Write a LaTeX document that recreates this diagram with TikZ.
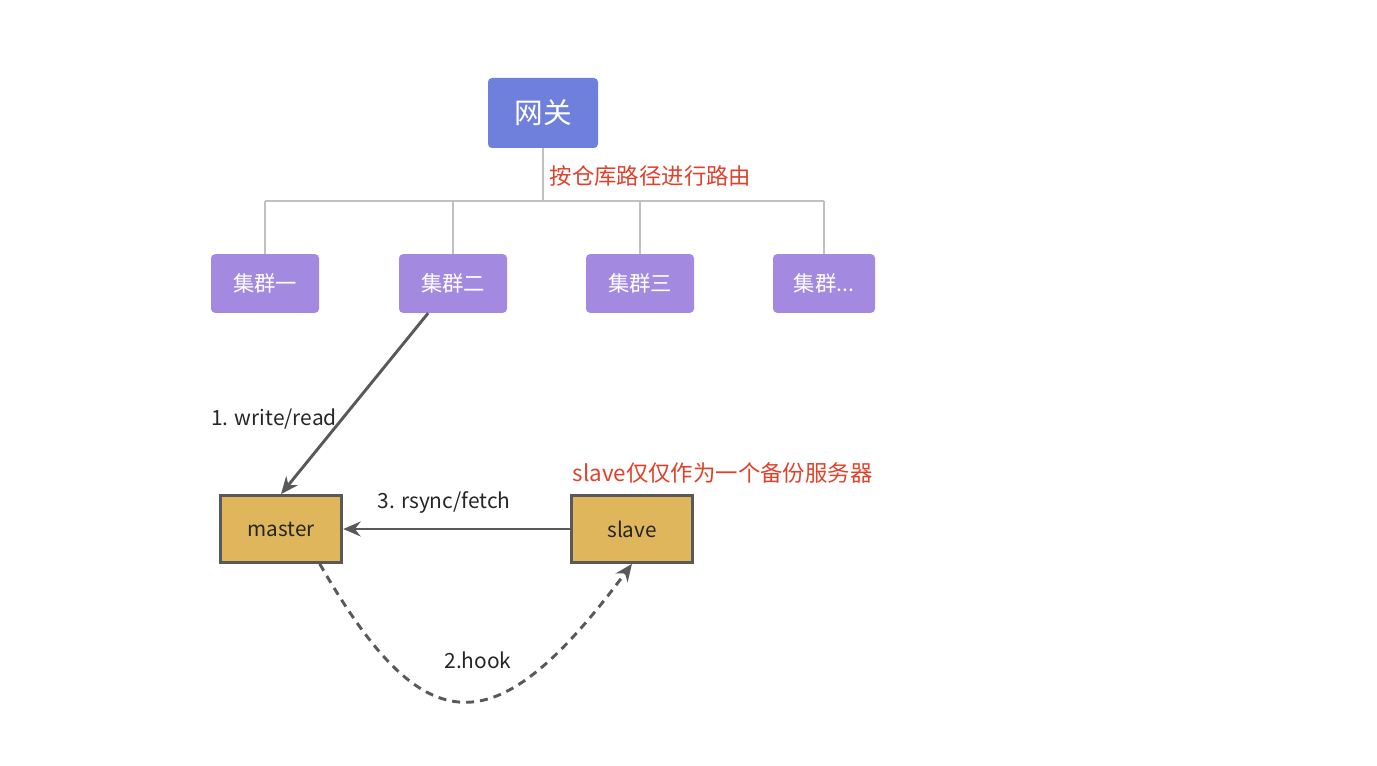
\documentclass[tikz,border=0pt]{standalone}
\usepackage{fontspec}
\setmainfont{Noto Sans CJK SC}
\usetikzlibrary{arrows.meta}
\definecolor{gwblue}{HTML}{6F80DC}
\definecolor{clpurple}{HTML}{A38AE0}
\definecolor{srvgold}{HTML}{DFB65C}
\definecolor{darkline}{HTML}{595959}
\definecolor{notered}{HTML}{E0412A}
\definecolor{treegray}{HTML}{C0C0C0}

\begin{document}
\begin{tikzpicture}[x=0.75pt, y=-0.75pt,
    gateway/.style={fill=gwblue, rounded corners=3pt, minimum width=82.5pt, minimum height=52.5pt,
      text=white, font=\fontsize{21.5}{24}\selectfont},
    cluster/.style={fill=clpurple, rounded corners=3pt, minimum width=81pt, minimum height=44pt,
      text=white, font=\fontsize{16}{18}\selectfont},
    server/.style={draw=darkline, line width=2.3pt, fill=srvgold, minimum width=91pt, minimum height=50pt,
      text=black!85, font=\fontsize{15.5}{17}\selectfont},
    note/.style={text=notered, font=\fontsize{16.8}{19}\selectfont},
    lbl/.style={text=black!85, font=\fontsize{15.7}{18}\selectfont},
    flow/.style={draw=darkline, line width=2.2pt, -{Stealth[length=13pt, width=11pt]}},
    tree/.style={draw=treegray, line width=1.2pt}]
    \useasboundingbox (0,0) rectangle (1377,766);

    % gateway and the clusters below it
    \node [gateway] (gw) at (543,113) {网关};
    \node [note, anchor=west] (route) at (545,176) {按仓库路径进行路由};
    \node [cluster] (c1) at (265,283.5) {集群一};
    \node [cluster] (c2) at (453,283.5) {集群二};
    \node [cluster] (c3) at (640,283.5) {集群三};
    \node [cluster, minimum width=76.5pt] (c4) at (824,283.5) {集群...};

    \coordinate (bus) at (543,201);
    \draw [tree] (gw.south) -- (bus);
    \draw [tree] (c1 |- bus) -- (c4 |- bus);
    \foreach \c in {c1,c2,c3,c4}
      \draw [tree] (\c.north) -- (\c |- bus);

    % master / slave
    \node [server] (master) at (281,529) {master};
    \node [server] (slave) at (632,529) {slave};
    \node [note, anchor=west] (slavenote) at (568,473) {slave仅仅作为一个备份服务器};

    \draw [flow] (c2.230) -- (master.north);
    \node [lbl] (wr) at (274,419) {1. write/read};

    \draw [flow] (slave.west) -- (master.east);
    \node [lbl] (rs) at (444,502) {3. rsync/fetch};

    \draw [flow, dash pattern=on 6pt off 4.5pt] (master.318) .. controls (425,747) and (496,747) .. (slave.south);
    \node [lbl] (hk) at (478,660) {2.hook};
\end{tikzpicture}
\end{document}
